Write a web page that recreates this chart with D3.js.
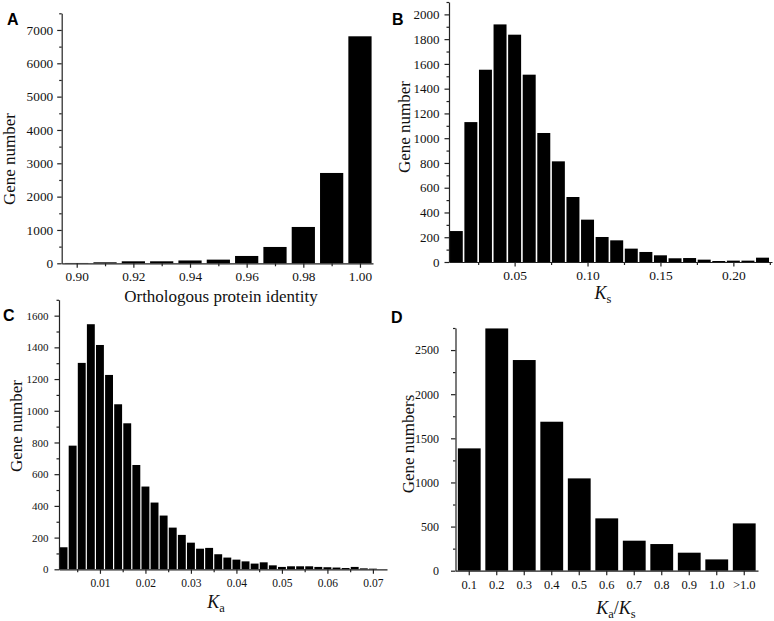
<!DOCTYPE html>
<html><head><meta charset="utf-8">
<script src="https://cdn.jsdelivr.net/npm/d3@7"></script>
<style>
html,body{margin:0;padding:0;background:#fff;}
svg text{font-family:"Liberation Serif","Times New Roman",serif;fill:#111;}
.domain,.tick line{stroke:#222;stroke-width:1.2;}
</style></head><body>
<script>
// ---------- DATA ----------
// Panel A: orthologous protein identity
const identityBins = [0.90,0.91,0.92,0.93,0.94,0.95,0.96,0.97,0.98,0.99,1.00];
const identityCounts = [10,30,60,60,85,110,220,490,1090,2710,6810];
const identityTicks = [0.90,0.92,0.94,0.96,0.98,1.00];

// Panel B: Ks histogram (bin starts, width 0.01)
const ksBinStarts = [0.005,0.015,0.025,0.035,0.045,0.055,0.065,0.075,0.085,0.095,0.105,0.115,0.125,0.135,0.145,0.155,0.165,0.175,0.185,0.195,0.205,0.215];
const ksCounts = [250,1130,1553,1919,1836,1513,1042,813,525,342,202,175,108,81,54,30,32,19,8,11,11,35];
const ksTicks = [0.05,0.10,0.15,0.20];

// Panel C: Ka histogram (bin starts, width 0.002)
const kaBinStarts = [0.001,0.003,0.005,0.007,0.009,0.011,0.013,0.015,0.017,0.019,0.021,0.023,0.025,0.027,0.029,0.031,0.033,0.035,0.037,0.039,0.041,0.043,0.045,0.047,0.049,0.051,0.053,0.055,0.057,0.059,0.061,0.063,0.065,0.067,0.069];
const kaCounts = [139,780,1302,1546,1415,1226,1041,921,658,522,421,339,263,217,168,130,135,95,74,61,50,36,44,25,15,19,19,19,15,13,11,8,15,6,4];
const kaTicks = [0.01,0.02,0.03,0.04,0.05,0.06,0.07];

// Panel D: Ka/Ks categories
const ratioCats = ["0.1","0.2","0.3","0.4","0.5","0.6","0.7","0.8","0.9","1.0",">1.0"];
const ratioCounts = [1386,2745,2387,1688,1046,593,340,302,204,128,536];

// ---------- DRAW ----------
const svg = d3.select("body").append("svg").attr("width",774).attr("height",621);

function yAxis(x0, y, majors, minors, fs, pad, fmt){
  const g = svg.append("g").attr("transform",`translate(${x0},0)`)
    .call(d3.axisLeft(y).tickValues(majors).tickSize(4.5).tickSizeOuter(0).tickPadding(pad).tickFormat(fmt));
  g.selectAll("text").style("font-size",fs+"px").style("font-family","Liberation Serif");
  const m = svg.append("g").attr("transform",`translate(${x0},0)`)
    .call(d3.axisLeft(y).tickValues(minors).tickSize(2.5).tickFormat(""));
  m.select(".domain").remove();
}
function xAxis(y0, x, majors, minors, fs, pad, fmt){
  const g = svg.append("g").attr("transform",`translate(0,${y0})`)
    .call(d3.axisBottom(x).tickValues(majors).tickSize(4.5).tickSizeOuter(0).tickPadding(pad).tickFormat(fmt));
  g.selectAll("text").style("font-size",fs+"px").style("font-family","Liberation Serif");
  if(minors){
    const m = svg.append("g").attr("transform",`translate(0,${y0})`)
      .call(d3.axisBottom(x).tickValues(minors).tickSize(3).tickFormat(""));
    m.select(".domain").remove();
  }
}
function yTitle(x, y, txt){
  svg.append("text").attr("transform",`translate(${x},${y}) rotate(-90)`)
    .attr("text-anchor","middle").style("font-size","17px").text(txt);
}
function letter(x,y,t){
  svg.append("text").attr("x",x).attr("y",y).text(t)
    .style("font-family","Liberation Sans, Arial, sans-serif").style("font-weight","bold").style("font-size","16px").style("fill","#000");
}
function subLabel(cx, by, parts){
  const t = svg.append("text").attr("x",cx).attr("y",by).attr("text-anchor","middle").style("font-size","18px");
  parts.forEach(p=>{
    const s = t.append("tspan").text(p.t);
    if(p.italic) s.style("font-style","italic");
    if(p.sub) s.attr("dy",4).style("font-size","12.5px");
    if(p.up) s.attr("dy",-4);
  });
}
const steps = (a,b,s)=>d3.range(Math.round((b-a)/s)+1).map(i=>+(a+i*s).toFixed(6));

// ----- Panel A -----
{
  const x = d3.scaleLinear([0.8947,1.0046],[61.7,373]);
  const y = d3.scaleLinear([0,7500],[263.3,13.3]);
  const bw = (x(0.91)-x(0.90))*0.82;
  svg.append("g").selectAll("rect").data(identityBins).join("rect")
    .attr("x",(d)=>x(d)-bw/2).attr("width",bw)
    .attr("y",(d,i)=>y(identityCounts[i])).attr("height",(d,i)=>y(0)-y(identityCounts[i]))
    .attr("fill","#000");
  yAxis(61.7, y, steps(0,7000,1000), steps(500,7500,1000), 13.3, 4, d3.format("d"));
  xAxis(263.3, x, identityTicks, [0.91,0.93,0.95,0.97,0.99], 13.3, 4, d3.format(".2f"));
  yTitle(15,159,"Gene number");
  svg.append("text").attr("x",221).attr("y",302).attr("text-anchor","middle").style("font-size","17px").text("Orthologous protein identity");
  letter(7,25,"A");
}
// ----- Panel B -----
{
  const x = d3.scaleLinear([0.005,0.2265],[449,772]);
  const y = d3.scaleLinear([0,2100],[262,2]);
  svg.append("g").selectAll("rect").data(ksBinStarts).join("rect")
    .attr("x",d=>x(d)+0.8).attr("width",d=>x(d+0.01)-x(d)-1.6)
    .attr("y",(d,i)=>y(ksCounts[i])).attr("height",(d,i)=>y(0)-y(ksCounts[i]))
    .attr("fill","#000");
  yAxis(449, y, steps(0,2000,200), steps(100,2100,200), 13, 5, d3.format("d"));
  xAxis(262, x, ksTicks, [0.025,0.075,0.125,0.175,0.225], 13.5, 4, d3.format(".2f"));
  yTitle(410,127,"Gene number");
  subLabel(603,299,[{t:"K",italic:true},{t:"s",sub:true}]);
  letter(392,25,"B");
}
// ----- Panel C -----
{
  const x = d3.scaleLinear([0.001,0.0731],[59,387]);
  const y = d3.scaleLinear([0,1700],[569.3,299.8]);
  svg.append("g").selectAll("rect").data(kaBinStarts).join("rect")
    .attr("x",d=>x(d)+0.6).attr("width",d=>x(d+0.002)-x(d)-1.2)
    .attr("y",(d,i)=>y(kaCounts[i])).attr("height",(d,i)=>y(0)-y(kaCounts[i]))
    .attr("fill","#000");
  yAxis(59, y, steps(0,1600,200), steps(100,1700,200), 11, 6, d3.format("d"));
  xAxis(569.3, x, kaTicks, [0.005,0.015,0.025,0.035,0.045,0.055,0.065], 11.5, 5, d3.format(".2f"));
  yTitle(22,426,"Gene number");
  subLabel(216,608,[{t:"K",italic:true},{t:"a",sub:true}]);
  letter(3,321,"C");
}
// ----- Panel D -----
{
  const x = d3.scaleBand(ratioCats,[455.5,758]).paddingInner(0.17).paddingOuter(0.085);
  const y = d3.scaleLinear([0,2750],[570.7,328]);
  svg.append("g").selectAll("rect").data(ratioCats).join("rect")
    .attr("x",d=>x(d)).attr("width",x.bandwidth())
    .attr("y",(d,i)=>y(ratioCounts[i])).attr("height",(d,i)=>y(0)-y(ratioCounts[i]))
    .attr("fill","#000");
  yAxis(455.5, y, steps(0,2500,500), steps(250,2750,500), 12, 12, d3.format("d"));
  xAxis(570.7, x, ratioCats, null, 12.5, 5, d=>d);
  yTitle(414,444,"Gene numbers");
  subLabel(616,614,[{t:"K",italic:true},{t:"a",sub:true},{t:"/",up:true},{t:"K",italic:true},{t:"s",sub:true}]);
  letter(391,323,"D");
}
</script>
</body></html>
